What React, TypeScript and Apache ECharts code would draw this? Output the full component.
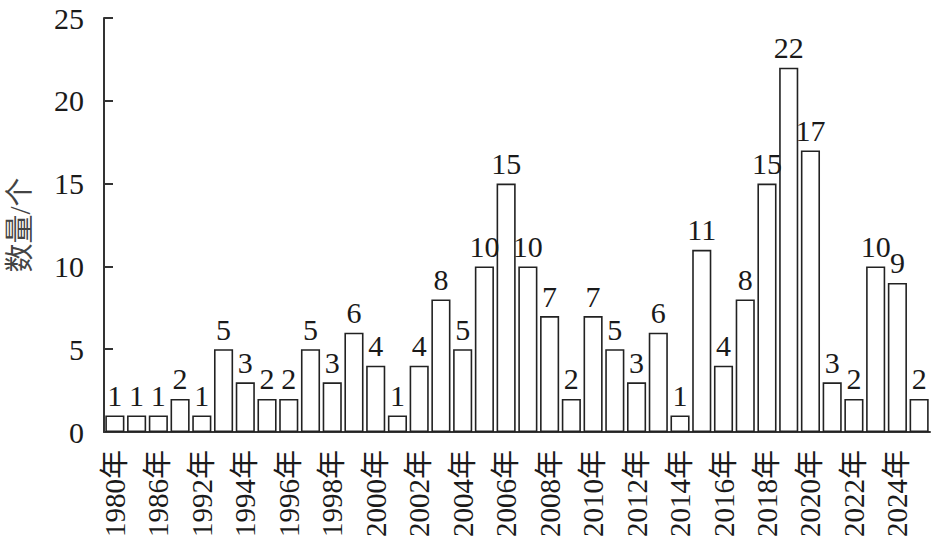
import React, { useEffect, useRef } from "react";
import * as echarts from "echarts";

const years: string[] = [
  "1980年", "1983年", "1986年", "1989年", "1992年", "1993年", "1994年", "1995年",
  "1996年", "1997年", "1998年", "1999年", "2000年", "2001年", "2002年", "2003年",
  "2004年", "2005年", "2006年", "2007年", "2008年", "2009年", "2010年", "2011年",
  "2012年", "2013年", "2014年", "2015年", "2016年", "2017年", "2018年", "2019年",
  "2020年", "2021年", "2022年", "2023年", "2024年", "2025年",
];

const counts: number[] = [
  1, 1, 1, 2, 1, 5, 3, 2, 2, 5, 3, 6, 4, 1, 4, 8, 5, 10, 15, 10, 7, 2, 7, 5, 3, 6, 1,
  11, 4, 8, 15, 22, 17, 3, 2, 10, 9, 2,
];

const yAxisName = "数量/个";

const FONT = "'Liberation Serif', 'Noto Sans CJK SC', serif";

export default function App() {
  const ref = useRef<HTMLDivElement>(null);
  useEffect(() => {
    if (!ref.current) return;
    const chart = echarts.init(ref.current, undefined, { renderer: "svg" });
    chart.setOption({
      animation: false,
      backgroundColor: "#ffffff",
      textStyle: { fontFamily: FONT },
      grid: {
        left: 104,
        right: 1,
        top: 18,
        bottom: 120,
        containLabel: false,
        outerBoundsMode: "none",
      },
      xAxis: {
        type: "category",
        data: years,
        boundaryGap: true,
        axisLine: { show: true, lineStyle: { color: "#333", width: 2 } },
        axisTick: { show: false },
        axisLabel: {
          interval: 1,
          rotate: 90,
          margin: 18,
          fontSize: 29,
          color: "#1a1a1a",
          fontFamily: FONT,
        },
      },
      yAxis: {
        type: "value",
        min: 0,
        max: 25,
        interval: 5,
        name: yAxisName,
        nameLocation: "middle",
        nameGap: 70,
        nameRotate: 90,
        nameTextStyle: { fontSize: 29, color: "#444", fontFamily: FONT },
        axisLine: { show: true, lineStyle: { color: "#333", width: 2 } },
        axisTick: { show: true, inside: true, length: 9, lineStyle: { color: "#333", width: 2 } },
        axisLabel: { margin: 20, fontSize: 30, color: "#1a1a1a", fontFamily: FONT },
        splitLine: { show: false },
      },
      series: [
        {
          type: "bar",
          data: counts,
          barCategoryGap: "12%",
          itemStyle: { color: "#ffffff", borderColor: "#222", borderWidth: 1.6 },
          label: {
            show: true,
            position: "top",
            distance: 5,
            fontSize: 30,
            color: "#1a1a1a",
            fontFamily: FONT,
          },
        },
      ],
    });
    return () => chart.dispose();
  }, []);
  return <div ref={ref} style={{ width: 931, height: 552, position: "absolute", left: 0, top: 0 }} />;
}
